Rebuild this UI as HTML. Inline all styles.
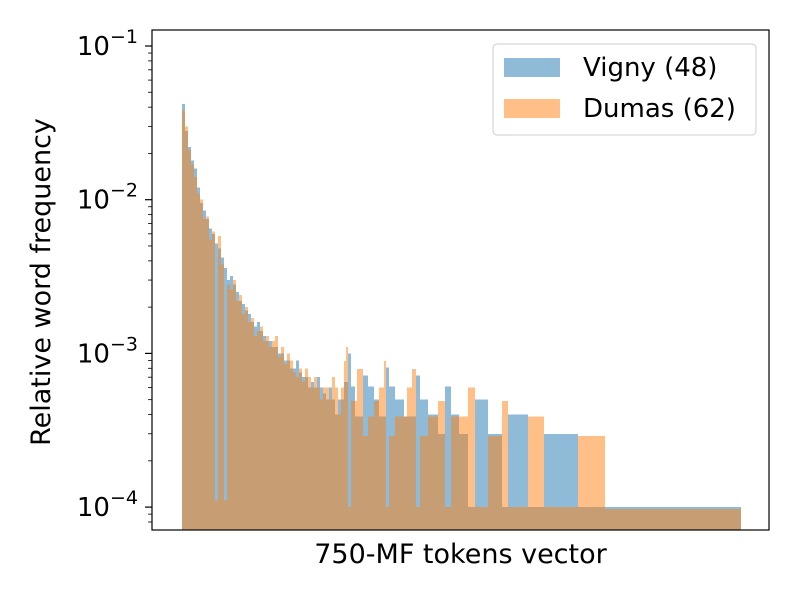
<!DOCTYPE html>
<html><head><meta charset="utf-8"><style>
body{margin:0;background:#fff;}
svg{display:block;font-family:"DejaVu Sans","Liberation Sans",sans-serif;}
</style></head><body>
<svg id="chart" width="800" height="600">
<rect width="800" height="600" fill="#fff"/>
<g id="bars"></g>
<g id="axes"></g>
</svg>
<script>
// Left dense region: bin width 3 token units starting at 0
const binWidth = 3;
const vignyLeft = [.042,.028,.022,.018,.016,.012,.0095,.0085,.0075,.0065,.006,.0052,.0048,.0042,.0036,.003,.0032,.0028,.0025,.0022,.0021,.0019,.0018,.0016,.0015,.0016,.0014,.0013,.0012,.0012,.0011,.0011,.001,.001,.0009,.0009,.0008,.0008,.0009,.00075,.0007,.0007,.0006,.00065,.0006,.0007,.0006,.00055,.0005,.0006,.0005,.0004,.0005,.0005];
const dumasLeft = [.038,.030,.021,.017,.014,.011,.010,.0075,.0078,.0055,.0062,.00011,.0058,.0038,.00011,.0028,.0026,.003,.0022,.0024,.0018,.002,.0016,.0017,.0013,.0014,.0015,.0012,.0013,.0011,.0012,.0013,.00095,.0011,.00085,.001,.0009,.00075,.0007,.0008,.00065,.0008,.0007,.0006,.0007,.0006,.0005,.0006,.0006,.0005,.0007,.0006,.0004,.0006];
// Right region segments: start, end (token units), value
const vignyStart = [162,166,169,173,181,186,192,197,204,207,213,222,234,238,246,256,263,269,277,286,293,306,320,326,346,362,396,423];
const vignyEnd   = [166,169,173,181,186,192,197,204,207,213,222,234,238,246,256,263,269,277,286,293,306,320,326,346,362,396,423,559];
const vignyVals  = [6.5e-4,1.0e-3,6.1e-4,3.9e-4,7.2e-4,6.1e-4,5e-4,3.9e-4,8.1e-4,6.1e-4,5e-4,3.9e-4,7.2e-4,5e-4,4e-4,3e-4,6.1e-4,4e-4,3e-4,1e-4,5e-4,3e-4,1e-4,4e-4,1e-4,3e-4,1e-4,1e-4];
const dumasStart = [162,164,166,169,175,181,186,192,197,202,204,207,213,225,230,234,238,246,256,263,269,286,293,306,320,326,346,362,396,423];
const dumasEnd   = [164,166,169,175,181,186,192,197,202,204,207,213,225,230,234,238,246,256,263,269,286,293,306,320,326,346,362,396,423,559];
const dumasVals  = [8.9e-4,1.1e-3,1e-4,4.9e-4,7.9e-4,2.9e-4,3.9e-4,4.9e-4,6e-4,8.9e-4,1e-4,2.9e-4,3.9e-4,6e-4,7.9e-4,1e-4,2.9e-4,3.9e-4,4.9e-4,1e-4,3.9e-4,6e-4,1e-4,2.9e-4,4.9e-4,1e-4,3.9e-4,1e-4,2.9e-4,0.97e-4];
const yTickExps = [-1,-2,-3,-4];

const NS="http://www.w3.org/2000/svg";
const L=152,R=769,T=30,B=530;
const xDom=[-30,587];
function xs(v){return L+(v-xDom[0])/(xDom[1]-xDom[0])*(R-L);}
const yTopLog=-1+(46-T)/153.7, yBotLog=-1-(B-46)/153.7;
function ys(v){const l=Math.log10(v);return T+(yTopLog-l)/(yTopLog-yBotLog)*(B-T);}
const bars=document.getElementById('bars'), axes=document.getElementById('axes');
function mk(tag,attrs,parent){const e=document.createElementNS(NS,tag);for(const k in attrs)e.setAttribute(k,attrs[k]);parent.appendChild(e);return e;}
function bar(x0,x1,v,color,name){
  const y=ys(v);
  const r=mk('rect',{x:xs(x0),y:y,width:Math.max(0.5,xs(x1)-xs(x0)),height:B-y,fill:color,'fill-opacity':0.5,'shape-rendering':'crispEdges'},bars);
  
  
}
vignyLeft.forEach((v,i)=>bar(i*binWidth,(i+1)*binWidth,v,'#1f77b4','vigny-bar'));
vignyStart.forEach((s,i)=>bar(s,vignyEnd[i],vignyVals[i],'#1f77b4','vigny-bar'));
dumasLeft.forEach((v,i)=>bar(i*binWidth,(i+1)*binWidth,v,'#ff7f0e','dumas-bar'));
dumasStart.forEach((s,i)=>bar(s,dumasEnd[i],dumasVals[i],'#ff7f0e','dumas-bar'));

// ticks
for(let e=-5;e<=-1;e++){
  for(let m=1;m<=9;m++){
    const v=m*Math.pow(10,e); const y=ys(v);
    if(y<T-0.5||y>B+0.5) continue;
    const t=mk('line',{x1:L,x2:L-(m===1?7:4),y1:y,y2:y,stroke:'#000','stroke-width':m===1?1.2:0.8},axes);
    
    
  }
}
yTickExps.forEach(e=>{
  const y=ys(Math.pow(10,e));
  const t=mk('text',{x:L-14,y:y+9,'text-anchor':'end','font-size':26},axes);
  t.textContent='10';
  const s=mk('tspan',{dy:-12,'font-size':19},t); s.textContent='\u2212'+(-e);
  
  
});
const fr=mk('rect',{x:L,y:T,width:R-L,height:B-T,fill:'none',stroke:'#000','stroke-width':1.2},axes);


const xl=mk('text',{x:(L+R)/2,y:563,'text-anchor':'middle','font-size':27},axes);
xl.textContent='750-MF tokens vector';


const yl=mk('text',{x:0,y:0,'text-anchor':'middle','font-size':27,transform:'translate(50,282) rotate(-90)'},axes);
yl.textContent='Relative word frequency';



// legend
const lg=mk('g',{},axes);


mk('rect',{x:493,y:44,width:263,height:91,rx:4,fill:'#fff','fill-opacity':0.8,stroke:'#ccc'},lg);
[['Vigny (48)','#1f77b4',58],['Dumas (62)','#ff7f0e',99]].forEach(([lab,c,y])=>{
  const p=mk('rect',{x:504,y:y,width:56,height:19,fill:c,'fill-opacity':0.5},lg);
  
  
  const t=mk('text',{x:583,y:y+18,'font-size':26},lg); t.textContent=lab;
  
  
});
</script>
</body></html>
